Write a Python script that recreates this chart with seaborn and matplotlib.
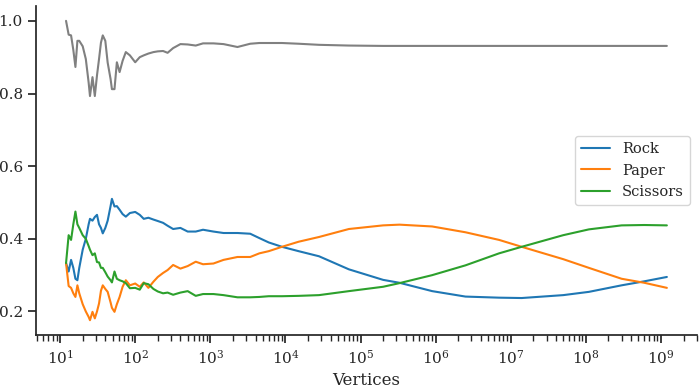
import matplotlib
matplotlib.use("Agg")
import matplotlib.pyplot as plt
import matplotlib.ticker as mticker
import seaborn as sns
import pandas as pd
import numpy as np

vertices = [12, 13, 14, 15, 16, 17, 18, 20, 22, 24, 25, 27, 29, 31, 33, 35, 37, 40, 43,
            47, 49, 53, 57, 62, 68, 75, 85, 100, 115, 130, 150, 175, 200, 235, 270, 320,
            400, 500, 640, 800, 1100, 1500, 2300, 3400, 4500, 6000, 9000, 15000, 28000,
            70000, 2e5, 3.3e5, 9e5, 2.5e6, 7e6, 1.4e7, 5e7, 1.1e8, 3e8, 6e8, 1.2e9]

rock = [0.333, 0.31, 0.342, 0.32, 0.29, 0.286, 0.32, 0.37, 0.40, 0.44, 0.455, 0.45, 0.46,
        0.466, 0.44, 0.43, 0.415, 0.43, 0.45, 0.49, 0.51, 0.489, 0.49, 0.48, 0.468, 0.461,
        0.471, 0.474, 0.466, 0.455, 0.458, 0.453, 0.449, 0.444, 0.436, 0.427, 0.43, 0.42,
        0.42, 0.425, 0.42, 0.416, 0.416, 0.414, 0.402, 0.39, 0.378, 0.366, 0.352, 0.316,
        0.287, 0.279, 0.256, 0.241, 0.238, 0.237, 0.245, 0.254, 0.272, 0.283, 0.295]

paper = [0.333, 0.27, 0.265, 0.25, 0.24, 0.272, 0.25, 0.22, 0.20, 0.185, 0.176, 0.199,
         0.181, 0.2, 0.222, 0.257, 0.272, 0.262, 0.254, 0.225, 0.21, 0.199, 0.22, 0.24,
         0.268, 0.286, 0.272, 0.277, 0.268, 0.28, 0.265, 0.282, 0.295, 0.306, 0.314, 0.328,
         0.318, 0.325, 0.337, 0.33, 0.332, 0.342, 0.35, 0.35, 0.36, 0.366, 0.378, 0.392,
         0.405, 0.427, 0.437, 0.439, 0.434, 0.418, 0.397, 0.378, 0.344, 0.32, 0.29, 0.279,
         0.265]

scissors = [0.333, 0.41, 0.397, 0.44, 0.475, 0.44, 0.43, 0.41, 0.40, 0.38, 0.37, 0.355,
            0.36, 0.336, 0.335, 0.32, 0.32, 0.308, 0.296, 0.286, 0.28, 0.31, 0.29, 0.286,
            0.283, 0.278, 0.264, 0.265, 0.26, 0.278, 0.275, 0.262, 0.255, 0.25, 0.252, 0.246,
            0.252, 0.256, 0.243, 0.248, 0.248, 0.245, 0.239, 0.239, 0.24, 0.242, 0.242, 0.243,
            0.245, 0.256, 0.268, 0.278, 0.3, 0.327, 0.36, 0.378, 0.41, 0.426, 0.437, 0.438,
            0.437]

gray_line = [1.0, 0.962, 0.96, 0.92, 0.873, 0.945, 0.945, 0.93, 0.895, 0.83, 0.793, 0.845,
             0.793, 0.85, 0.895, 0.94, 0.96, 0.945, 0.885, 0.84, 0.812, 0.812, 0.886, 0.859,
             0.89, 0.914, 0.905, 0.886, 0.9, 0.905, 0.91, 0.914, 0.916, 0.917, 0.912, 0.925,
             0.936, 0.935, 0.932, 0.938, 0.938, 0.936, 0.928, 0.937, 0.939, 0.939, 0.939,
             0.937, 0.934, 0.932, 0.931, 0.931, 0.931, 0.931, 0.931, 0.931, 0.931, 0.931,
             0.931, 0.931, 0.931]

labels = ["Rock", "Paper", "Scissors"]
x_ticks = [1e1, 1e2, 1e3, 1e4, 1e5, 1e6, 1e7, 1e8, 1e9]

df = pd.DataFrame({
    "Vertices": vertices * 3,
    "value": rock + paper + scissors,
    "Type": [labels[0]] * len(rock) + [labels[1]] * len(paper) + [labels[2]] * len(scissors),
})
df_gray = pd.DataFrame({"Vertices": vertices, "value": gray_line})

sns.set_theme(style="ticks")
plt.rcParams["font.family"] = ["DejaVu Serif"]
plt.rcParams["mathtext.fontset"] = "dejavuserif"

fig = plt.figure(figsize=(6.99, 3.92), dpi=100)
ax = fig.add_axes([0.0515, 0.145, 0.997 - 0.0515, 0.985 - 0.145])

palette = ["#1f77b4", "#ff7f0e", "#2ca02c"]
sns.lineplot(data=df_gray, x="Vertices", y="value", color="#808080", linewidth=1.5, ax=ax,
             legend=False)
sns.lineplot(data=df, x="Vertices", y="value", hue="Type", palette=palette, linewidth=1.5,
             ax=ax)
ax.set_xscale("log")
xlim = ax.get_xlim()
ax.xaxis.set_major_locator(mticker.FixedLocator(x_ticks))
ax.xaxis.set_major_formatter(mticker.LogFormatterSciNotation())
ax.xaxis.set_minor_formatter(mticker.NullFormatter())
ax.set_xlim(xlim)
ax.set_ylabel("")
ax.set_xlabel("Vertices", fontsize=12)
ax.tick_params(axis="both", labelsize=11)
ax.set_yticks([0.2, 0.4, 0.6, 0.8, 1.0])
ax.set_yticklabels(["0.2", "0.4", "0.6", "0.8", "1.0"])
sns.despine(ax=ax)
leg = ax.legend(loc="center right", fontsize=10.5, title=None)

fig.savefig("out.png", dpi=100)
